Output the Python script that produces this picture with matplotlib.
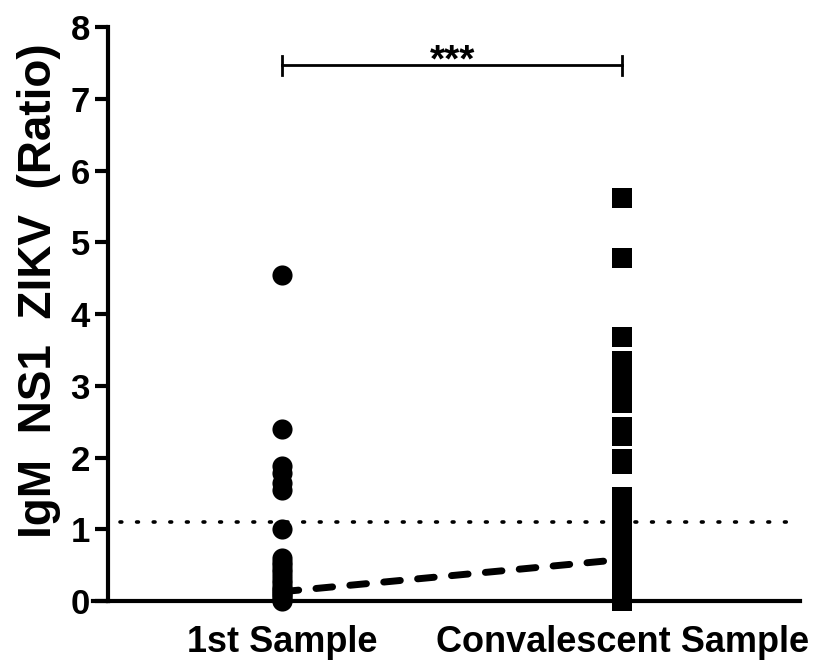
import numpy as np
import matplotlib.pyplot as plt
from matplotlib.lines import Line2D

plt.rcParams['font.family'] = ['Liberation Sans', 'DejaVu Sans']
plt.rcParams['font.weight'] = 'bold'

# IgM NS1 ZIKV ratios per group
groups = ['1st Sample', 'Convalescent Sample']
first_sample = [4.55, 2.40, 1.88, 1.78, 1.64, 1.55, 1.00,
                0.60, 0.55, 0.50, 0.45, 0.40, 0.35, 0.30, 0.25,
                0.20, 0.17, 0.14, 0.11, 0.08, 0.05, 0.02, 0.0]
convalescent = [5.62, 4.78, 3.68, 3.35, 3.25, 3.15, 3.05, 2.95, 2.85,
                2.76, 2.42, 2.30, 1.98, 1.91,
                1.45, 1.35, 1.25, 1.15, 1.05, 0.95, 0.85, 0.75, 0.65,
                0.55, 0.45, 0.35, 0.25, 0.15, 0.08, 0.0]
medians = [0.13, 0.58]
cutoff = 1.1
signif_y = 7.47
signif_text = '***'

fig = plt.figure(figsize=(8.2, 6.65), dpi=100)
ax = fig.add_axes([0.1317, 0.0962, 0.8439, 0.8632])

ax.scatter(np.zeros(len(first_sample)), first_sample, s=210, marker='o',
           color='black', linewidths=0, zorder=3, clip_on=False)
ax.scatter(np.ones(len(convalescent)), convalescent, s=200, marker='s',
           color='black', linewidths=0, zorder=3, clip_on=False)

# dashed line joining the group medians
ax.plot([0, 1], medians, color='black', lw=5, dashes=(2.4, 2.5),
        dash_capstyle='round', zorder=2)
ax.plot([0, 1], [0.02, 0.0], color='#999999', lw=1, zorder=1)

# positivity cutoff
ax.axhline(cutoff, xmin=0.018, xmax=0.997, color='black', lw=2.6,
           linestyle=(0, (0.5, 4.1)), dash_capstyle='round', zorder=1)

# significance bracket
ax.plot([0, 1], [signif_y, signif_y], color='black', lw=2, clip_on=False)
for xb in [0, 1]:
    ax.plot([xb, xb], [signif_y - 0.14, signif_y + 0.13], color='black',
            lw=2, clip_on=False)
ax.text(0.5, signif_y - 0.09, signif_text, ha='center', va='baseline',
        fontsize=28, fontweight='bold')

ax.set_xlim(-0.512, 1.523)
ax.set_ylim(0, 8)
ax.set_yticks(range(0, 9))
ax.set_xticks([0, 1])
ax.set_xticklabels(groups, fontsize=26, fontweight='bold')
ax.tick_params(axis='y', labelsize=25, width=3, length=9.5, pad=3.6)
ax.tick_params(axis='x', width=3, length=6, pad=11)
for lab in ax.get_yticklabels():
    lab.set_fontweight('bold')

ax.set_ylabel('IgM  NS1  ZIKV  (Ratio)', fontsize=33, fontweight='bold')
ax.yaxis.set_label_coords(-0.068, 0.54)

for side in ['top', 'right']:
    ax.spines[side].set_visible(False)
for side in ['left', 'bottom']:
    ax.spines[side].set_linewidth(3)

# x axis runs a little past the y axis
ax.add_line(Line2D([-0.022, 0], [0, 0], transform=ax.transAxes,
                   color='black', lw=3, clip_on=False))

fig.savefig('out.png', dpi=100)
